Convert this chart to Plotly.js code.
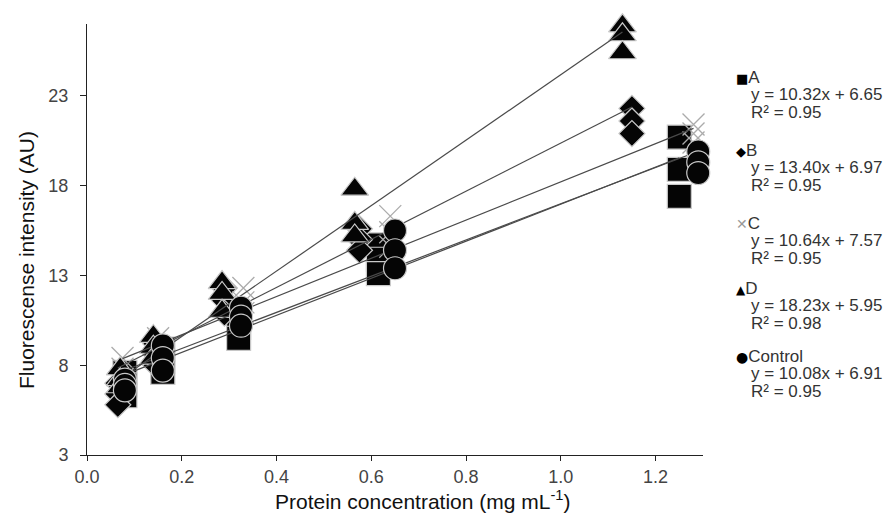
<!DOCTYPE html>
<html>
<head>
<meta charset="utf-8">
<script src="https://cdn.plot.ly/plotly-3.0.1.min.js"></script>
<style>html,body{margin:0;padding:0;background:#fff;}#chart{width:890px;height:529px;}</style>
</head>
<body>
<div id="chart"></div>
<script>
// ---- data ----
const seriesNames = ['A', 'B', 'C', 'D', 'Control'];

const concA = [0.08,0.08,0.08, 0.16,0.16,0.16, 0.32,0.32,0.32, 0.615,0.615,0.615, 1.25,1.25,1.25];
const fluoA = [7.6,6.9,6.3, 8.9,8.2,7.6, 10.8,10.1,9.5, 14.7,13.9,13.1, 20.7,18.9,17.4];

const concB = [0.065,0.065,0.065, 0.145,0.145,0.145, 0.29,0.29,0.29, 0.575,0.575,0.575, 1.15,1.15,1.15];
const fluoB = [7.0,6.4,5.8, 9.2,8.6,8.0, 12.3,11.6,10.9, 15.6,15.0,14.4, 22.3,21.6,20.9];

const concC = [0.075,0.075,0.075, 0.15,0.15,0.15, 0.33,0.33,0.33, 0.64,0.64,0.64, 1.28,1.28,1.28];
const fluoC = [8.4,7.8,7.2, 9.5,9.0,8.6, 12.3,11.5,10.9, 16.3,15.4,14.6, 21.4,20.9,20.4];

const concD = [0.07,0.07,0.07, 0.14,0.14,0.14, 0.285,0.285,0.285, 0.565,0.565,0.565, 1.13,1.13,1.13];
const fluoD = [7.8,7.2,6.8, 9.6,9.0,8.4, 12.6,12.0,11.0, 17.8,15.9,15.2, 26.9,26.4,25.4];

const concCtrl = [0.08,0.08,0.08, 0.16,0.16,0.16, 0.325,0.325,0.325, 0.65,0.65,0.65, 1.29,1.29,1.29];
const fluoCtrl = [7.2,6.9,6.6, 9.1,8.4,7.7, 11.2,10.7,10.2, 15.5,14.4,13.4, 19.9,19.3,18.7];

const slopes = [10.32, 13.40, 10.64, 18.23, 10.08];
const intercepts = [6.65, 6.97, 7.57, 5.95, 6.91];
const rSquared = [0.95, 0.95, 0.95, 0.98, 0.95];

const xTitle = 'Protein concentration (mg mL<sup>-1</sup>)';
const yTitle = 'Fluorescense intensity (AU)';

// ---- styling / layout ----
const concs = [concA, concB, concC, concD, concCtrl];
const fluos = [fluoA, fluoB, fluoC, fluoD, fluoCtrl];
const symbols = ['square', 'diamond', 'x-thin-open', 'triangle-up', 'circle'];
const sizes = [24, 20, 22, 24, 23];
const legendGlyph = ['■', '◆', '✕', '▲', '●'];
const glyphSize = [13, 13, 14, 12, 14];

const W = 890, H = 529;
const M = {l: 87, r: 187, t: 24, b: 74};
const pw = W - M.l - M.r, ph = H - M.t - M.b;
const px2x = p => (p - M.l) / pw;
const py2y = p => (H - M.b - p) / ph;

function markerTrace(i) {
  const isX = symbols[i] === 'x-thin-open';
  return {
    type: 'scatter', mode: 'markers', name: seriesNames[i],
    x: concs[i], y: fluos[i], cliponaxis: false, showlegend: false,
    marker: isX
      ? {symbol: symbols[i], size: sizes[i], color: '#ababab', line: {color: '#ababab', width: 1.3}}
      : {symbol: symbols[i], size: sizes[i], color: '#050505', line: {color: '#c9c9c9', width: 1.2}},
    hoverinfo: 'x+y+name'
  };
}
function lineTrace(i) {
  const xs = [Math.min(...concs[i]), Math.max(...concs[i])];
  return {
    type: 'scatter', mode: 'lines', name: seriesNames[i] + ' fit',
    x: xs, y: xs.map(v => slopes[i] * v + intercepts[i]),
    line: {color: '#4a4a4a', width: 1.2}, showlegend: false, cliponaxis: false, hoverinfo: 'skip'
  };
}

const traces = [markerTrace(0), markerTrace(1), markerTrace(2), markerTrace(3)]
  .concat([0,1,2,3,4].map(lineTrace))
  .concat([markerTrace(4)]);

const annotations = [];
const headY = [77, 150, 223, 288, 356];
const lineGap = 17.5;
const legFont = {family: 'Liberation Sans, Arial, sans-serif', size: 17, color: '#333333'};
seriesNames.forEach((n, i) => {
  const glyphColor = i === 2 ? '#9a9a9a' : '#000000';
  annotations.push({xref:'paper', yref:'paper', x: px2x(734), y: py2y(headY[i]), xanchor:'left', yanchor:'middle', showarrow:false,
    text: '<span style="color:' + glyphColor + ';font-family:DejaVu Sans;font-size:' + glyphSize[i] + 'px">' + legendGlyph[i] + '</span>' + n, font: legFont});
  annotations.push({xref:'paper', yref:'paper', x: px2x(749), y: py2y(headY[i] + lineGap), xanchor:'left', yanchor:'middle', showarrow:false,
    text: 'y = ' + slopes[i].toFixed(2) + 'x + ' + intercepts[i].toFixed(2), font: legFont});
  annotations.push({xref:'paper', yref:'paper', x: px2x(749), y: py2y(headY[i] + 2 * lineGap), xanchor:'left', yanchor:'middle', showarrow:false,
    text: 'R² = ' + rSquared[i].toFixed(2), font: legFont});
});
annotations.push({xref:'paper', yref:'paper', x: px2x(423), y: py2y(500), xanchor:'center', yanchor:'middle', showarrow:false,
  text: xTitle, font: {family: 'Liberation Sans, Arial, sans-serif', size: 21, color: '#111'}});
annotations.push({xref:'paper', yref:'paper', x: px2x(26), y: py2y(260), xanchor:'center', yanchor:'middle', showarrow:false, textangle: -90,
  text: yTitle, font: {family: 'Liberation Sans, Arial, sans-serif', size: 21, color: '#111'}});

const tickFont = {family: 'Liberation Sans, Arial, sans-serif', size: 18, color: '#444444'};
const layout = {
  width: W, height: H,
  margin: {l: M.l, r: M.r, t: M.t, b: M.b, pad: 0},
  paper_bgcolor: '#ffffff', plot_bgcolor: '#ffffff',
  showlegend: false,
  xaxis: {range: [0, 1.3], tick0: 0, dtick: 0.2, tickformat: '.1f', showgrid: false, zeroline: false,
    showline: true, linecolor: '#222', linewidth: 1, ticks: 'outside', ticklen: 5, tickcolor: '#222',
    tickfont: tickFont, ticklabelstandoff: 0},
  yaxis: {range: [3, 27], tick0: 3, dtick: 5, showgrid: false, zeroline: false,
    showline: true, linecolor: '#222', linewidth: 1, ticks: 'outside', ticklen: 6, tickcolor: '#222',
    tickfont: tickFont, ticklabelstandoff: 8},
  annotations: annotations
};

Plotly.newPlot('chart', traces, layout, {displayModeBar: false, staticPlot: true});
</script>
</body>
</html>
